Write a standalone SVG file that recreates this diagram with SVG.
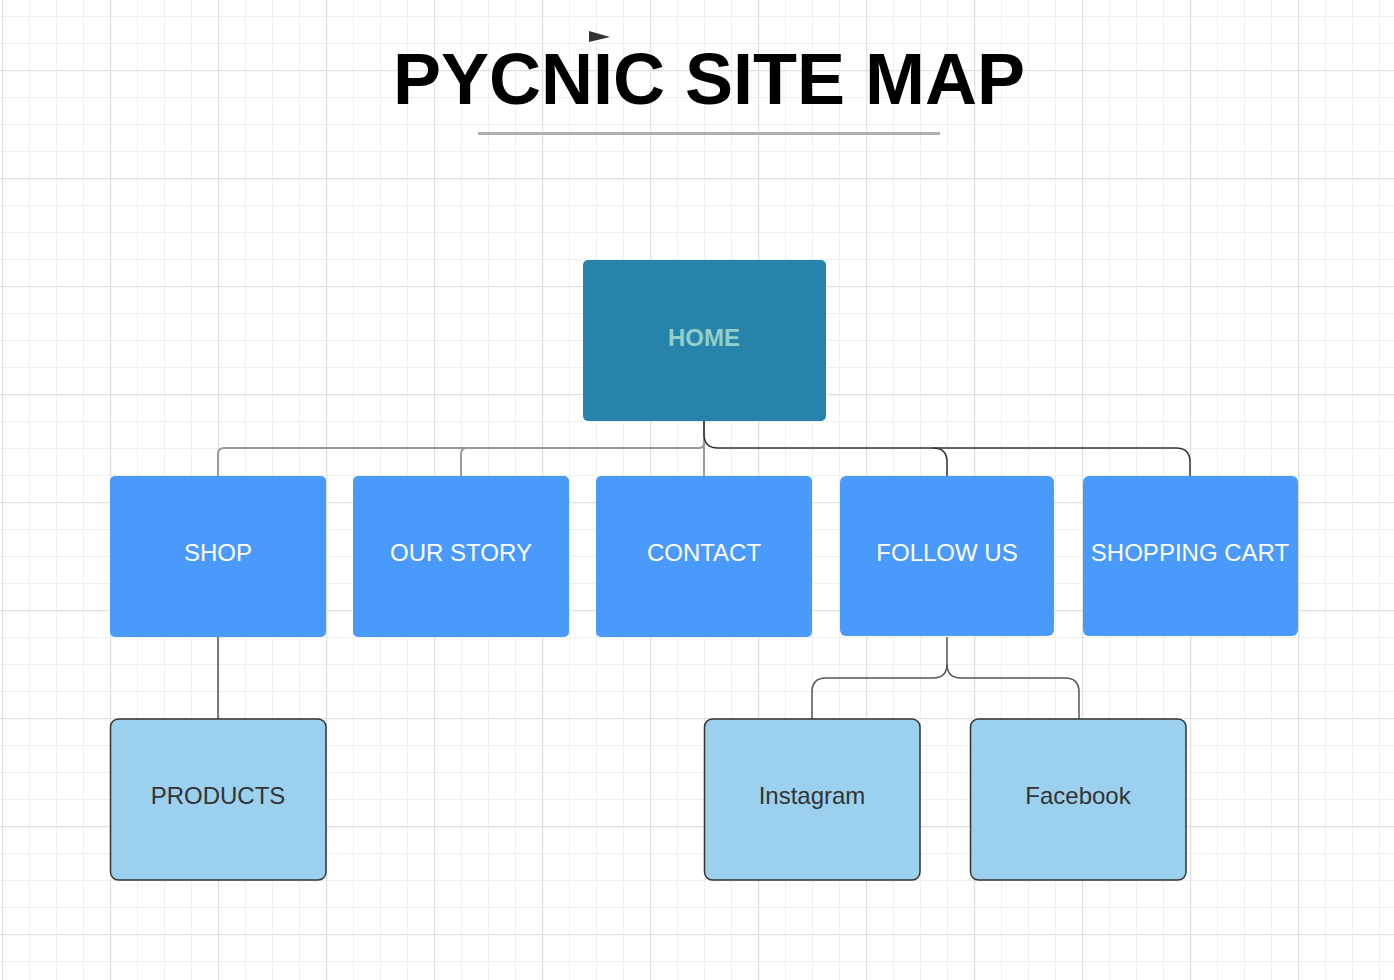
<svg xmlns="http://www.w3.org/2000/svg" width="1394" height="980" viewBox="0 0 1394 980">
  <defs>
    <pattern id="grid" patternUnits="userSpaceOnUse" x="2" y="70" width="108" height="108">
      <path d="M27.5 0V108M54.5 0V108M81.5 0V108M0 27.5H108M0 54.5H108M0 81.5H108" stroke="#efefef" stroke-width="1" fill="none"/>
      <path d="M0.5 0V108M0 0.5H108" stroke="#e0e0e0" stroke-width="1.5" fill="none"/>
    </pattern>
    <style>
      .t{font-family:"Liberation Sans",Arial,sans-serif;font-size:24px;text-anchor:middle}
      .l2 rect{fill:#4a9afc}
      .l2 text{fill:#ffffff}
      .l3 rect{fill:#9bd1ef;stroke:#333333;stroke-width:1.5}
      .l3 text{fill:#333333}
      .cg{fill:none;stroke:#9a9a9a;stroke-width:2}
      .cd{fill:none;stroke:#333333;stroke-width:1.5}
    </style>
  </defs>
  <rect width="1394" height="980" fill="#ffffff"/>
  <rect width="1394" height="980" fill="url(#grid)"/>

  <g id="title">
    <polygon points="589,31 610,37 589,42" fill="#333333"/>
    <text x="709" y="104" font-family="Liberation Sans,Arial,sans-serif" font-weight="bold" font-size="72" text-anchor="middle" fill="#000000">PYCNIC SITE MAP</text>
    <line x1="478" y1="133.5" x2="940" y2="133.5" stroke="#b0b0b0" stroke-width="3"/>
  </g>

  <g id="connectors">
    <path class="cg" d="M704 421V443Q704 448 699 448H224Q218 448 218 454V476"/>
    <path class="cg" d="M467 448Q461 448 461 454V476"/>
    <path class="cg" d="M704 443V476"/>
    <path class="cd" d="M704 421V434Q704 448 718 448H933Q947 448 947 462V476"/>
    <path class="cd" d="M933 448H1176Q1190 448 1190 462V476"/>
    <path class="cg" d="M218 637V719" style="stroke:#777777"/>
    <path class="cd" style="stroke:#555555" d="M947 637V664Q947 678 933 678H826Q812 678 812 692V719"/>
    <path class="cd" style="stroke:#555555" d="M947 664Q947 678 961 678H1065Q1079 678 1079 692V719"/>
  </g>

  <g id="home">
    <rect x="583" y="260" width="243" height="161" rx="5" fill="#2783a9"/>
    <text class="t" x="704" y="346" font-weight="bold" fill="#8fd1c9">HOME</text>
  </g>

  <g id="shop" class="l2">
    <rect x="110" y="476" width="216" height="161" rx="5"/>
    <text class="t" x="218" y="561">SHOP</text>
  </g>
  <g id="our-story" class="l2">
    <rect x="353" y="476" width="216" height="161" rx="5"/>
    <text class="t" x="461" y="561">OUR STORY</text>
  </g>
  <g id="contact" class="l2">
    <rect x="596" y="476" width="216" height="161" rx="5"/>
    <text class="t" x="704" y="561">CONTACT</text>
  </g>
  <g id="follow-us" class="l2">
    <rect x="840" y="476" width="214" height="160" rx="6"/>
    <text class="t" x="947" y="561">FOLLOW US</text>
  </g>
  <g id="shopping-cart" class="l2">
    <rect x="1083" y="476" width="215" height="160" rx="6"/>
    <text class="t" x="1190" y="561">SHOPPING CART</text>
  </g>

  <g id="products" class="l3">
    <rect x="110.5" y="719" width="215.5" height="161" rx="8"/>
    <text class="t" x="218" y="804">PRODUCTS</text>
  </g>
  <g id="instagram" class="l3">
    <rect x="704.5" y="719" width="215.5" height="161" rx="8"/>
    <text class="t" x="812" y="804">Instagram</text>
  </g>
  <g id="facebook" class="l3">
    <rect x="970.5" y="719" width="215.5" height="161" rx="8"/>
    <text class="t" x="1078" y="804">Facebook</text>
  </g>
</svg>
